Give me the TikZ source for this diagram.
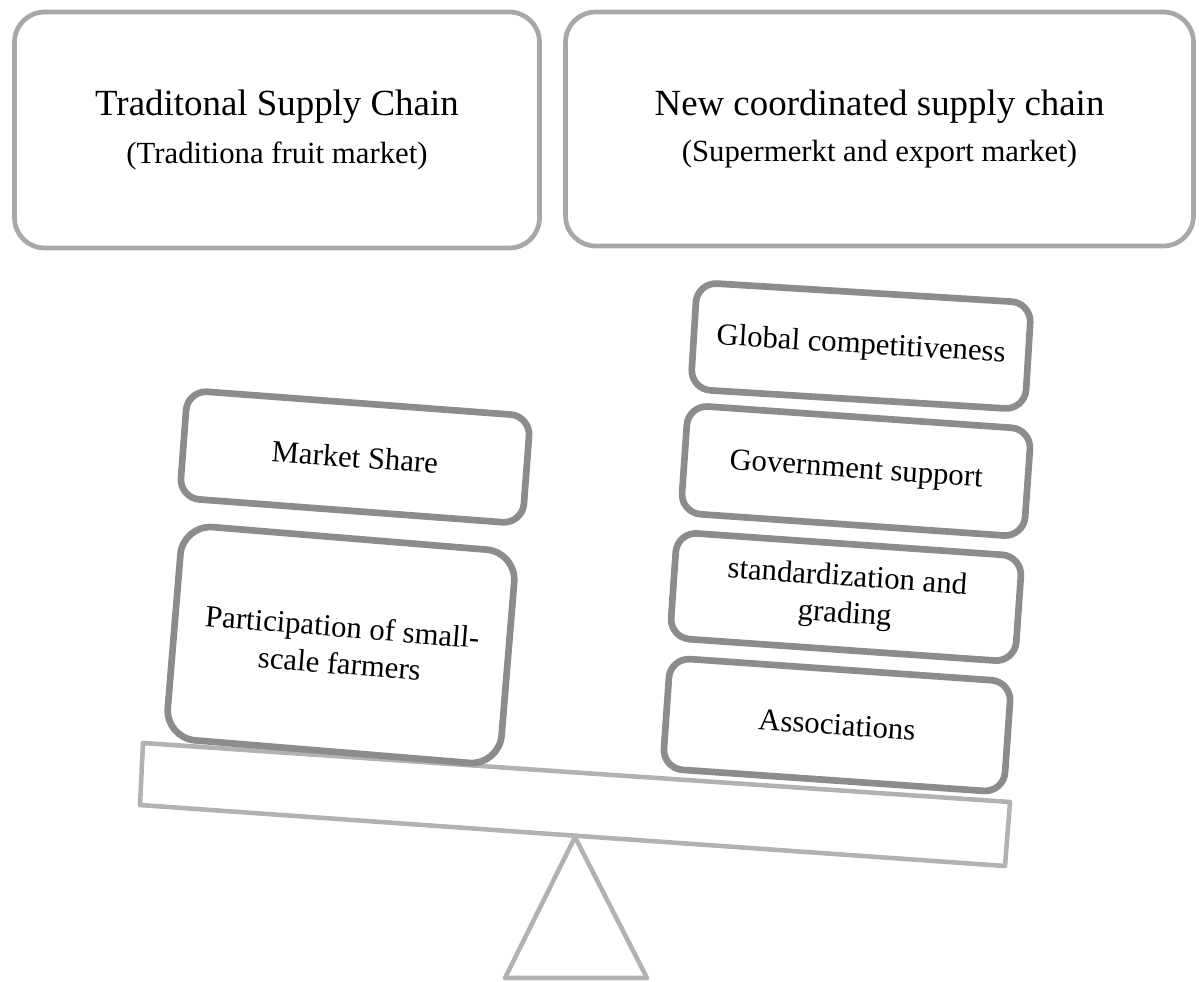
\documentclass[tikz,border=0pt]{standalone}
\usepackage{fontspec}
\setmainfont{Liberation Serif}
\definecolor{topgray}{HTML}{A8A8A8}
\definecolor{boxgray}{HTML}{8C8C8C}
\definecolor{beamgray}{HTML}{B2B2B2}
\begin{document}
\begin{tikzpicture}[x=0.02cm,y=-0.02cm,
  topbox/.style={draw=topgray,line width=2.7pt,rounded corners=0.6cm,fill=white,align=center,inner sep=0pt},
  block/.style={draw=boxgray,line width=3.8pt,rounded corners=0.4cm,fill=white,align=center,inner sep=0pt,
    font=\fontsize{17.5}{21}\selectfont}]
\useasboundingbox (0,0) rectangle (1199,981);
% top boxes
\node[topbox,minimum width=10.5cm,minimum height=4.72cm] (trad) at (277,130)
  {\fontsize{21}{25}\selectfont Traditonal Supply Chain\\[9pt] \fontsize{17.5}{21}\selectfont (Traditiona fruit market)};
\node[topbox,minimum width=12.56cm,minimum height=4.68cm] (new) at (879.5,129)
  {\fontsize{21}{25}\selectfont New coordinated supply chain\\[9pt] \fontsize{17.5}{21}\selectfont (Supermerkt and export market)};
% fulcrum and beam
\draw[draw=beamgray,line width=2.6pt,line join=round,fill=white] (575,837) -- (647,978) -- (505,978) -- cycle;
\draw[draw=beamgray,line width=2.6pt,line join=round,fill=white] (143,743) -- (1010,802) -- (1005,866) -- (140,805) -- cycle;
% left stack
\node[block,minimum width=6.88cm,minimum height=2.16cm,rotate=-4.3] (ms) at (355,457) {Market Share};
\node[block,minimum width=6.7cm,minimum height=4.28cm,rounded corners=0.6cm,rotate=-4.7] (pa) at (341,645)
  {Participation of small-\\scale farmers};
% right stack
\node[block,minimum width=6.7cm,minimum height=2.14cm,rotate=-3.5] (gc) at (861,346) {Global competitiveness};
\node[block,minimum width=6.88cm,minimum height=2.16cm,rotate=-4] (gs) at (856,471) {Government support};
\node[block,minimum width=6.92cm,minimum height=2.12cm,rotate=-4] (sg) at (846,597) {standardization and\\grading};
\node[block,minimum width=6.84cm,minimum height=2.22cm,rotate=-4] (as) at (837,725) {Associations};
\end{tikzpicture}
\end{document}
